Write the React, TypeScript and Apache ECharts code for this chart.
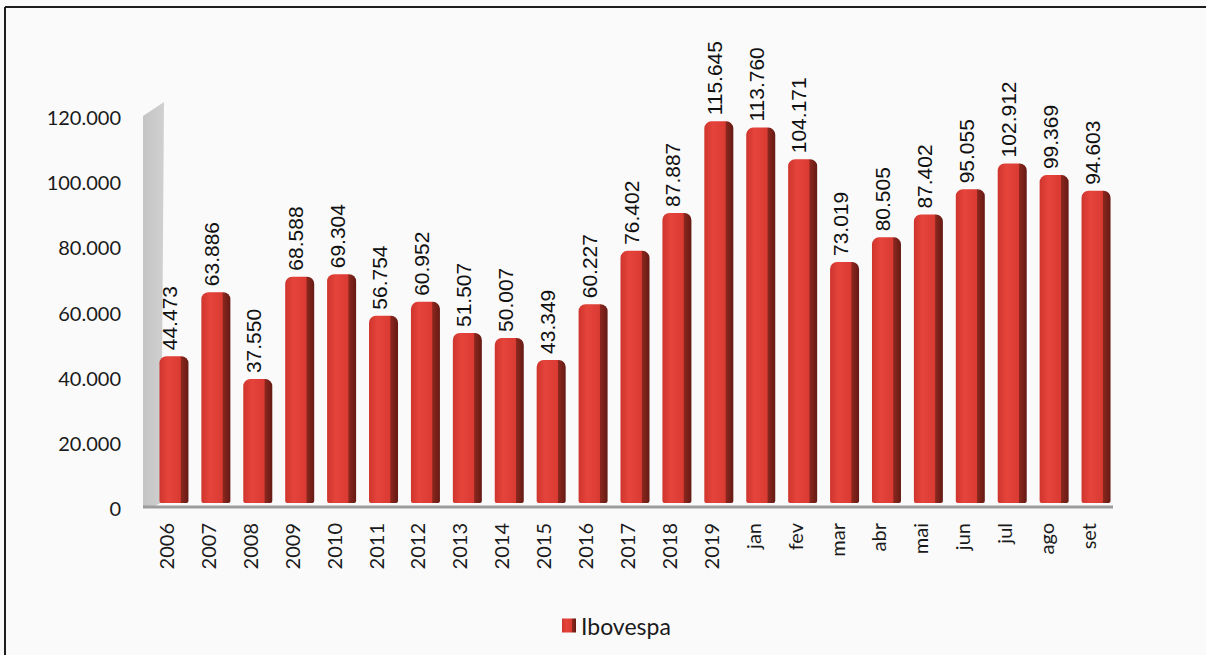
import React, { useEffect, useRef } from "react";
import * as echarts from "echarts";

const categories = [
  "2006", "2007", "2008", "2009", "2010", "2011", "2012", "2013", "2014", "2015",
  "2016", "2017", "2018", "2019", "jan", "fev", "mar", "abr", "mai", "jun", "jul", "ago", "set",
];
const ibovespa = [
  44473, 63886, 37550, 68588, 69304, 56754, 60952, 51507, 50007, 43349,
  60227, 76402, 87887, 115645, 113760, 104171, 73019, 80505, 87402, 95055, 102912, 99369, 94603,
];
const seriesName = "Ibovespa";
const yTickStep = 20000;

const fmt = (v: number) => (v === 0 ? "0" : String(Math.round(v)).replace(/\B(?=(\d{3})+(?!\d))/g, "."));

const W = 1206;
const H = 655;
const GRID_LEFT = 153;
const GRID_RIGHT = 89;
const GRID_TOP = 107;
const GRID_BOTTOM = H - 508;

export default function App() {
  const ref = useRef<HTMLDivElement>(null);
  useEffect(() => {
    if (!ref.current) return;
    const chart = echarts.init(ref.current, null, { renderer: "svg", width: W, height: H });
    const barGrad = new echarts.graphic.LinearGradient(0, 0, 1, 0, [
      { offset: 0, color: "#cf352d" },
      { offset: 0.3, color: "#e5443b" },
      { offset: 0.72, color: "#d93a31" },
      { offset: 0.75, color: "#8a271e" },
      { offset: 1, color: "#651a14" },
    ]);
    chart.setOption({
      animation: false,
      backgroundColor: "#fafafa",
      grid: { left: GRID_LEFT, right: GRID_RIGHT, top: GRID_TOP, bottom: GRID_BOTTOM },
      legend: {
        data: [seriesName],
        left: 557,
        top: 609,
        icon: "rect",
        itemWidth: 14,
        itemHeight: 14,
        itemGap: 6,
        textStyle: { fontFamily: "Lato", fontSize: 23, color: "#1a1a1a" },
      },
      xAxis: {
        type: "category",
        data: categories,
        axisLine: { show: false },
        axisTick: { show: false },
        axisLabel: {
          rotate: 90,
          interval: 0,
          margin: 15,
          formatter: (v: string) => `{t|${v}}\n{s| }`,
          rich: {
            t: { fontFamily: "Lato", fontSize: 20, color: "#1a1a1a", lineHeight: 22 },
            s: { fontSize: 10, lineHeight: 16, height: 16 },
          },
        },
      },
      yAxis: [
        {
          type: "value",
          min: -1515,
          max: 120000,
          axisLine: { show: false },
          axisTick: { show: false },
          axisLabel: { show: false },
          splitLine: { show: false },
        },
        {
          type: "value",
          position: "left",
          min: 0,
          max: 123080,
          interval: yTickStep,
          axisLine: { show: false },
          axisTick: { show: false },
          splitLine: { show: false },
          axisLabel: {
            showMaxLabel: false,
            margin: 32,
            fontFamily: "Lato",
            fontSize: 20,
            color: "#1a1a1a",
            formatter: (v: number) => fmt(v),
          },
        },
      ],
      series: [
        {
          name: seriesName,
          type: "bar",
          yAxisIndex: 0,
          data: ibovespa,
          barWidth: 29,
          itemStyle: { color: barGrad, borderRadius: [7, 7, 2, 2] },
          label: {
            show: true,
            position: "top",
            rotate: 90,
            align: "left",
            verticalAlign: "middle",
            distance: 6,
            formatter: (p: any) => `{t|${fmt(p.value)}}\n{s| }`,
            rich: {
              t: { fontFamily: "Liberation Sans", fontSize: 21, color: "#111", lineHeight: 24 },
              s: { fontSize: 8, lineHeight: 8, height: 8 },
            },
          },
        },
      ],
      graphic: [
        {
          type: "polygon",
          z: 0,
          shape: {
            points: [
              [143, 116],
              [164, 102],
              [161, 503],
              [152, 507],
              [143, 507],
            ],
          },
          style: {
            fill: new echarts.graphic.LinearGradient(0, 0, 1, 0, [
              { offset: 0, color: "#c4c4c4" },
              { offset: 1, color: "#d0d0d0" },
            ]),
          },
        },
        {
          type: "line",
          shape: { x1: 143, y1: 507, x2: 1113, y2: 507 },
          style: { stroke: "#9c9c9c", lineWidth: 3 },
        },
        {
          type: "line",
          shape: { x1: 5, y1: 7, x2: W, y2: 7 },
          style: { stroke: "#1e1e1e", lineWidth: 2 },
        },
        {
          type: "line",
          shape: { x1: 5, y1: 7, x2: 5, y2: H },
          style: { stroke: "#1e1e1e", lineWidth: 2 },
        },
      ],
    });
    return () => chart.dispose();
  }, []);
  return (
    <div style={{ position: "absolute", left: 0, top: 0, width: W, height: H }}>
      <div ref={ref} style={{ width: W, height: H }} />
    </div>
  );
}
